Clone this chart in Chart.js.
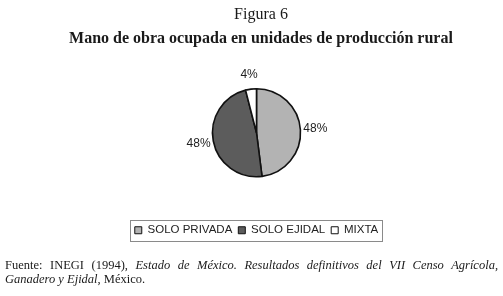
<!DOCTYPE html>
<html>
<head>
<meta charset="utf-8">
<script src="https://cdn.jsdelivr.net/npm/chart.js@4/dist/chart.umd.min.js"></script>
<style>
  html, body { margin: 0; padding: 0; background: #fff; }
  #wrap { position: relative; width: 503px; height: 296px; overflow: hidden; }
  #c { position: absolute; left: 0; top: 0; }
  .t { position: absolute; font-family: "Liberation Serif", "DejaVu Serif", serif; color: #1a1a1a; white-space: nowrap; }
  #fig { left: 0; width: 522px; top: 5px; text-align: center; font-size: 16px; }
  #sub { left: 0; width: 522px; top: 29px; text-align: center; font-size: 16px; font-weight: bold; }
  #foot { left: 5px; width: 493px; top: 258px; font-size: 12.5px; line-height: 14px; white-space: normal; text-align: justify; text-align-last: left; }
</style>
</head>
<body>
<div id="wrap">
  <canvas id="c" width="503" height="296"></canvas>
  <div class="t" id="fig">Figura 6</div>
  <div class="t" id="sub">Mano de obra ocupada en unidades de producción rural</div>
  <div class="t" id="foot">Fuente: INEGI (1994), <i>Estado de México. Resultados definitivos del VII Censo Agrícola, Ganadero y Ejidal</i>, México.</div>
</div>
<script>
const categories = ["SOLO PRIVADA", "SOLO EJIDAL", "MIXTA"];
const values = [48, 48, 4];
const valueLabels = ["48%", "48%", "4%"];
const colors = ["#b3b3b3", "#5c5c5c", "#ffffff"];

const pieLabels = {
  id: 'pieLabels',
  afterDatasetsDraw(chart) {
    const ctx = chart.ctx;
    const meta = chart.getDatasetMeta(0);
    ctx.save();
    ctx.font = '12px "Liberation Sans", Arial, sans-serif';
    ctx.fillStyle = '#222';
    ctx.textAlign = 'center';
    ctx.textBaseline = 'middle';
    meta.data.forEach((arc, i) => {
      const mid = (arc.startAngle + arc.endAngle) / 2;
      const d = arc.outerRadius + 15;
      const x = arc.x + Math.cos(mid) * d;
      const y = arc.y + Math.sin(mid) * d;
      ctx.fillText(valueLabels[i], x, y);
    });
    ctx.restore();
  }
};

const legendBox = {
  id: 'legendBox',
  afterDraw(chart) {
    const lg = chart.legend;
    if (!lg || !lg.legendHitBoxes || !lg.legendHitBoxes.length) return;
    const hb = lg.legendHitBoxes;
    let minX = Infinity, maxX = -Infinity, minY = Infinity, maxY = -Infinity;
    hb.forEach(b => {
      minX = Math.min(minX, b.left); maxX = Math.max(maxX, b.left + b.width);
      minY = Math.min(minY, b.top); maxY = Math.max(maxY, b.top + b.height);
    });
    const ctx = chart.ctx;
    ctx.save();
    ctx.strokeStyle = '#8a8a8a';
    ctx.lineWidth = 1;
    ctx.strokeRect(Math.round(minX - 5) + 0.5, Math.round(minY - 5) + 0.5, Math.round(maxX - minX + 9), Math.round(maxY - minY + 9));
    ctx.restore();
  }
};

new Chart(document.getElementById('c'), {
  type: 'pie',
  data: {
    labels: categories,
    datasets: [{
      data: values,
      backgroundColor: colors,
      borderColor: '#111',
      borderWidth: 1.6,
      radius: 44
    }]
  },
  options: {
    responsive: false,
    animation: false,
    layout: { padding: { left: 10, right: 0, top: 47, bottom: 50 } },
    plugins: {
      title: { display: false },
      tooltip: { enabled: false },
      legend: {
        display: true,
        position: 'bottom',
        labels: {
          boxWidth: 7,
          boxHeight: 7,
          padding: 6,
          color: '#222',
          font: { family: '"Liberation Sans", Arial, sans-serif', size: 11.5 },
          generateLabels(chart) {
            const items = Chart.overrides.pie.plugins.legend.labels.generateLabels(chart);
            return items.map(it => Object.assign(it, { lineWidth: 1, strokeStyle: '#111' }));
          }
        }
      }
    }
  },
  plugins: [pieLabels, legendBox]
});
</script>
</body>
</html>
